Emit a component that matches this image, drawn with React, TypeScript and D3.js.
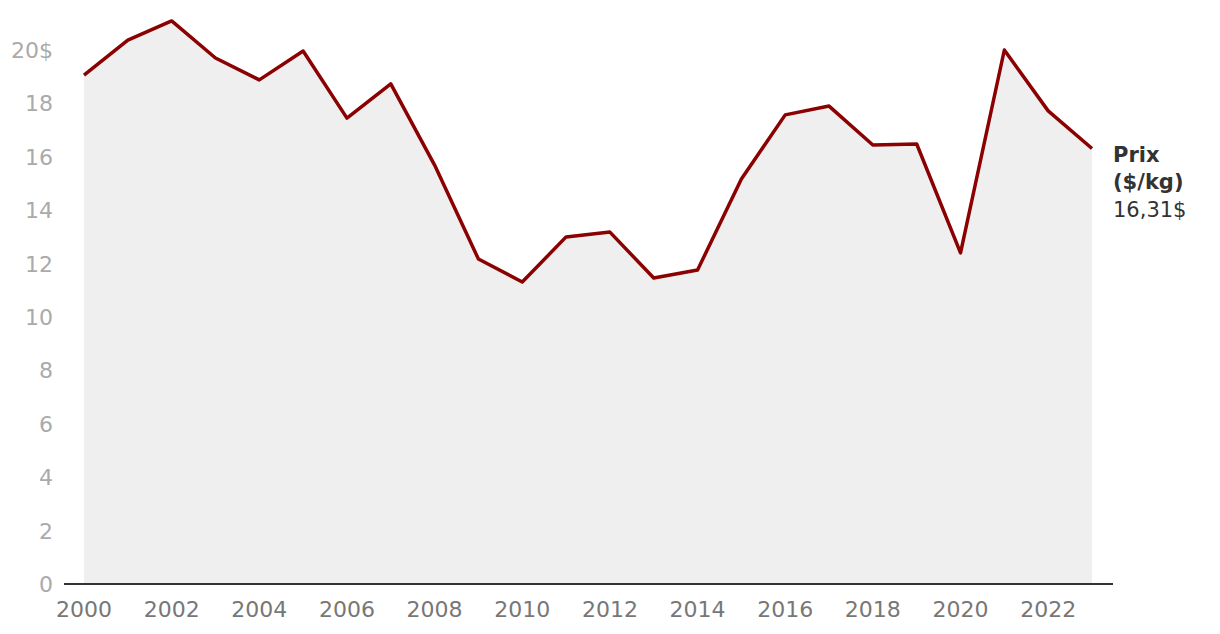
import React from "react";
import * as d3 from "d3";

const years = d3.range(2000, 2024);
const prices = [19.06, 20.37, 21.09, 19.7, 18.88, 19.96, 17.45, 18.73, 15.69, 12.17, 11.31, 13.0, 13.18, 11.46, 11.76, 15.17, 17.57, 17.9, 16.44, 16.48, 12.4, 20.0, 17.72, 16.31];
const yTicks = [0, 2, 4, 6, 8, 10, 12, 14, 16, 18, 20];
const xTicks = d3.range(2000, 2024, 2);

export default function App() {
  const W = 1220, H = 634;
  const x = d3.scaleLinear().domain([2000, 2023]).range([84, 1092]);
  const y = d3.scaleLinear().domain([0, 20]).range([584, 50]);
  const data = years.map((yr, i) => ({ yr, v: prices[i] }));
  const line = d3.line<any>().x(d => x(d.yr)).y(d => y(d.v));
  const area = d3.area<any>().x(d => x(d.yr)).y0(y(0)).y1(d => y(d.v));
  const font = "'DejaVu Sans', sans-serif";
  return (
    <svg width={W} height={H} style={{ position: "absolute", left: 0, top: 0 }} fontFamily={font}>
      <path d={area(data) || ""} fill="#efefef" />
      <line x1={64} x2={1113} y1={y(0)} y2={y(0)} stroke="#333" strokeWidth={2} />
      <path d={line(data) || ""} fill="none" stroke="#8b0000" strokeWidth={3.5} strokeLinejoin="round" />
      {yTicks.map(t => (
        <text key={t} x={53} y={y(t) + 8} textAnchor="end" fontSize={22} fill="#aaa">
          {t === 20 ? "20$" : t}
        </text>
      ))}
      {xTicks.map(t => (
        <text key={t} x={x(t)} y={617} textAnchor="middle" fontSize={22} fill="#777">
          {t}
        </text>
      ))}
      <text fontSize={21} fill="#333">
        <tspan x={1113} y={162} fontWeight="bold">Prix</tspan>
        <tspan x={1113} y={189} fontWeight="bold">($/kg)</tspan>
        <tspan x={1113} y={217}>16,31$</tspan>
      </text>
    </svg>
  );
}
